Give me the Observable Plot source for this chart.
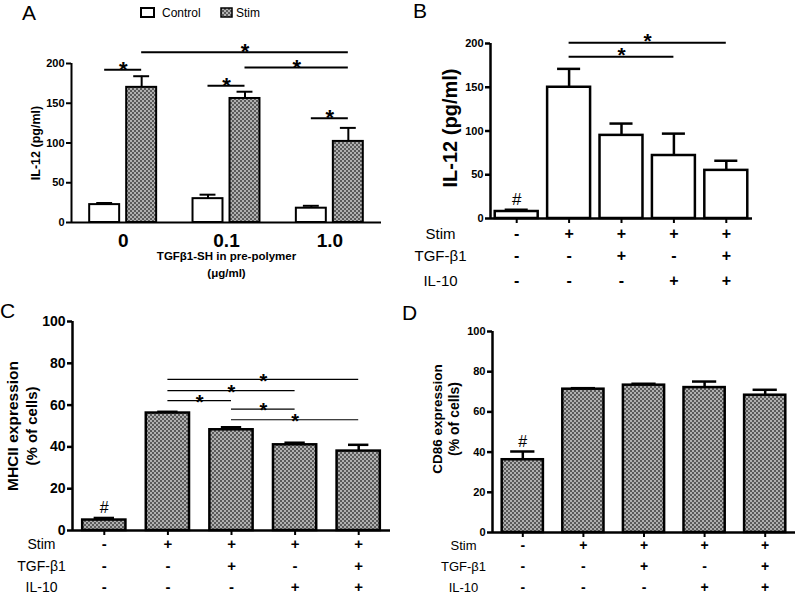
<!DOCTYPE html>
<html><head><meta charset="utf-8">
<script src="https://cdn.jsdelivr.net/npm/d3@7"></script>
<script src="https://cdn.jsdelivr.net/npm/@observablehq/plot@0.6"></script>
<style>
body{margin:0;background:#fff;}
#fig{position:relative;width:800px;height:601px;overflow:hidden;font-family:Arial,"Liberation Sans",sans-serif;}
.panel{position:absolute;}
#overlay{position:absolute;left:0;top:0;pointer-events:none;}
</style></head><body>
<svg width="0" height="0" style="position:absolute">
  <defs>
    <pattern id="hatch" width="4" height="4" patternUnits="userSpaceOnUse">
      <rect width="4" height="4" fill="#b0b0b0"/>
      <rect width="2" height="2" fill="#5a5a5a"/>
      <rect x="2" y="2" width="2" height="2" fill="#5a5a5a"/>
    </pattern>
  </defs>
</svg>
<div id="fig"></div>
<script>
// ---------- DATA ----------
// Panel A
const groupsA = ["0", "0.1", "1.0"];
const seriesA = ["Control", "Stim"];
const controlA = [22.5, 30, 18];
const controlErrA = [2, 5, 3];
const stimA = [170, 156, 102];
const stimErrA = [14, 8.5, 17];
const sigA = [
  {g1: 0, s1: "Control", g2: 0, s2: "Stim", y: 192},
  {g1: 0, s1: "Stim", g2: 2, s2: "Stim", y: 214},
  {g1: 1, s1: "Stim", g2: 2, s2: "Stim", y: 195},
  {g1: 1, s1: "Control", g2: 1, s2: "Stim", y: 172},
  {g1: 2, s1: "Control", g2: 2, s2: "Stim", y: 131}
];
const yTicksA = [0, 50, 100, 150, 200];

// Conditions (B, C, D)
const stimRow = ["-", "+", "+", "+", "+"];
const tgfRow  = ["-", "-", "+", "-", "+"];
const il10Row = ["-", "-", "-", "+", "+"];
const rowNames = ["Stim", "TGF-\u03b21", "IL-10"];

// Panel B
const valuesB = [8, 150, 95, 72, 55];
const errB = [2, 21, 13.5, 25, 11];
const sigB = [{a: 1, b: 4, y: 201}, {a: 1, b: 3, y: 185}];
const yTicksB = [0, 50, 100, 150, 200];

// Panel C
const valuesC = [5, 56.2, 48.2, 41, 38];
const errC = [1, 0.6, 1.2, 1, 3];
const sigC = [
  {a: 1, b: 4, y: 72.3}, {a: 1, b: 3, y: 66.9}, {a: 1, b: 2, y: 62.1},
  {a: 2, b: 3, y: 58.1}, {a: 2, b: 4, y: 53}
];
const yTicksC = [0, 20, 40, 60, 80, 100];

// Panel D
const valuesD = [36.2, 71.3, 73.3, 72.1, 68.3];
const errD = [4.1, 0.5, 0.7, 3, 2.7];
const yTicksD = [0, 20, 40, 60, 80, 100];

// ---------- RENDER ----------
const FONT = 'Arial, "Liberation Sans", sans-serif';
const fig = document.getElementById("fig");
function place(el, left, top) {
  const d = document.createElement("div");
  d.className = "panel"; d.style.left = left + "px"; d.style.top = top + "px";
  d.appendChild(el); fig.appendChild(d);
}

// Panel A
{
  const off = 0.179, hw = 0.145, cap = 0.077;
  const rows = [];
  groupsA.forEach((g, i) => {
    rows.push({gi: i, s: "Control", v: controlA[i], e: controlErrA[i]});
    rows.push({gi: i, s: "Stim", v: stimA[i], e: stimErrA[i]});
  });
  const pos = (gi, s) => gi + (s === "Control" ? -off : off);
  const cx = d => pos(d.gi, d.s);
  const plot = Plot.plot({
    width: 400, height: 300,
    marginLeft: 71, marginRight: 19, marginTop: 63, marginBottom: 78,
    style: {fontFamily: FONT, fontSize: "11px", color: "black", background: "transparent", overflow: "visible"},
    x: {type: "linear", domain: [-0.5, groupsA.length - 0.5], label: null},
    y: {domain: [0, 200], label: null},
    marks: [
      Plot.ruleX(rows, {x: cx, y1: d => d.v, y2: d => d.v + d.e, strokeWidth: 2}),
      Plot.ruleY(rows, {y: d => d.v + d.e, x1: d => cx(d) - cap, x2: d => cx(d) + cap, strokeWidth: 2}),
      Plot.rect(rows.filter(d => d.s === "Control"), {x1: d => cx(d) - hw, x2: d => cx(d) + hw, y1: 0, y2: "v", fill: "white", stroke: "black", strokeWidth: 2}),
      Plot.rect(rows.filter(d => d.s === "Stim"), {x1: d => cx(d) - hw, x2: d => cx(d) + hw, y1: 0, y2: "v", fill: "url(#hatch)", stroke: "black", strokeWidth: 2}),
      Plot.ruleY(sigA, {y: "y", x1: d => pos(d.g1, d.s1), x2: d => pos(d.g2, d.s2), strokeWidth: 2}),
      Plot.text(sigA, {x: d => (pos(d.g1, d.s1) + pos(d.g2, d.s2)) / 2, y: "y", text: () => "*", fontSize: 22, fontWeight: "bold", dy: 0}),
      Plot.ruleX([-0.5], {strokeWidth: 2}),
      Plot.ruleY([0], {strokeWidth: 2}),
      Plot.axisY({ticks: yTicksA, tickSize: 5, tickPadding: 2, strokeWidth: 2, fontSize: 11, fontWeight: "bold", label: null}),
      Plot.axisX({ticks: groupsA.map((g, i) => i), tickFormat: i => groupsA[i], tickSize: 0, tickPadding: 11, fontSize: 19, fontWeight: "bold", label: null}),
      Plot.text(["IL-12 (pg/ml)"], {frameAnchor: "left", dx: -36, rotate: -90, textAnchor: "middle", text: d => d, fontSize: 12.5, fontWeight: "bold"}),
      Plot.text(["TGF\u03b21-SH in pre-polymer"], {frameAnchor: "bottom", dy: 37, text: d => d, fontSize: 11.5, fontWeight: "bold"}),
      Plot.text(["(\u03bcg/ml)"], {frameAnchor: "bottom", dy: 54, text: d => d, fontSize: 11.5, fontWeight: "bold"})
    ]
  });
  place(plot, 0, 0);
}

function conditionPanel(o) {
  const idx = o.values.map((_, i) => i);
  const rows = idx.map(i => ({i, v: o.values[i], e: o.err[i]}));
  const rowVals = [stimRow, tgfRow, il10Row];
  const marks = [
    Plot.ruleX(rows, {x: "i", y1: "v", y2: d => d.v + d.e, strokeWidth: o.sw}),
    Plot.ruleY(rows, {y: d => d.v + d.e, x1: d => d.i - o.cap, x2: d => d.i + o.cap, strokeWidth: o.sw}),
    Plot.rect(rows, {x1: d => d.i - o.hw, x2: d => d.i + o.hw, y1: 0, y2: "v", fill: o.fill, stroke: "black", strokeWidth: o.sw}),
    Plot.text([rows[0]], {x: "i", y: d => d.v + d.e, text: () => "#", dy: -10, fontSize: o.hashSize, fontWeight: "normal"}),
    Plot.ruleX([-0.5], {strokeWidth: o.sw}),
    Plot.ruleY([0], {strokeWidth: o.sw}),
    Plot.axisY({ticks: o.yTicks, tickSize: 5, tickPadding: 2, strokeWidth: o.sw, fontSize: o.tickFont, fontWeight: "bold", label: null}),
    Plot.axisX({ticks: idx, tickFormat: () => "", tickSize: 5, strokeWidth: 2, label: null})
  ];
  if (o.sig) {
    marks.push(Plot.ruleY(o.sig, {y: "y", x1: "a", x2: "b", strokeWidth: o.sigSw}));
    marks.push(Plot.text(o.sig, {x: d => (d.a + d.b) / 2, y: "y", text: () => "*", fontSize: o.starSize, fontWeight: "bold", dy: o.starDy}));
  }
  rowVals.forEach((vals, r) => {
    marks.push(Plot.text(idx, {x: i => i, text: i => vals[i], frameAnchor: "bottom", dy: o.rowDy[r], fontSize: o.signSize, fontWeight: "bold"}));
    marks.push(Plot.text([rowNames[r]], {frameAnchor: "bottom-left", dx: o.rowLabelDx, dy: o.rowDy[r], text: d => d, textAnchor: "middle", fontSize: o.rowFont, fontWeight: "normal"}));
  });
  o.ylabel.forEach((t, k) => {
    marks.push(Plot.text([t], {frameAnchor: "left", dx: o.ylabelDx[k], dy: o.ylabelDy, rotate: -90, textAnchor: "middle", text: d => d, fontSize: o.ylabelFont[k], fontWeight: "bold"}));
  });
  return Plot.plot({
    width: o.width, height: o.height,
    marginLeft: o.m[0], marginRight: o.m[1], marginTop: o.m[2], marginBottom: o.m[3],
    style: {fontFamily: FONT, fontSize: o.tickFont + "px", color: "black", background: "transparent", overflow: "visible"},
    x: {type: "linear", domain: [-0.5, idx.length - 0.5], label: null},
    y: {domain: o.yDomain, label: null},
    marks
  });
}

// Panel B
place(conditionPanel({
  values: valuesB, err: errB, yDomain: [0, 200], yTicks: yTicksB,
  width: 400, height: 300, m: [90, 48, 43, 82],
  hw: 0.41, cap: 0.22, sw: 2.5, fill: "white",
  sig: sigB, sigSw: 2, starSize: 21, starDy: -1,
  hashSize: 17, tickFont: 11, signSize: 16,
  rowDy: [20, 42, 67], rowLabelDx: -50, rowFont: 15,
  ylabel: ["IL-12 (pg/ml)"], ylabelDx: [-40], ylabelDy: -3, ylabelFont: [20]
}), 400, 0);

// Panel C
place(conditionPanel({
  values: valuesC, err: errC, yDomain: [0, 100], yTicks: yTicksC,
  width: 400, height: 301, m: [72, 10, 21, 71],
  hw: 0.34, cap: 0.16, sw: 2.5, fill: "url(#hatch)",
  sig: sigC, sigSw: 1.2, starSize: 20, starDy: 2,
  hashSize: 16, tickFont: 14, signSize: 15,
  rowDy: [18, 40, 61], rowLabelDx: -31, rowFont: 14,
  ylabel: ["MHCII expression", "(% of cells)"], ylabelDx: [-59, -40], ylabelDy: 0, ylabelFont: [15.5, 15]
}), 0, 300);

// Panel D
place(conditionPanel({
  values: valuesD, err: errD, yDomain: [0, 100], yTicks: yTicksD,
  width: 400, height: 301, m: [92, 5, 31, 69],
  hw: 0.34, cap: 0.2, sw: 2.5, fill: "url(#hatch)",
  sig: null, hashSize: 16, tickFont: 11, signSize: 14,
  rowDy: [17, 38, 59], rowLabelDx: -29, rowFont: 13,
  ylabel: ["CD86 expression", "(% of cells)"], ylabelDx: [-55, -38], ylabelDy: -13, ylabelFont: [13.5, 14]
}), 400, 300);

// Overlay: panel letters and legend of A
const ns = "http://www.w3.org/2000/svg";
const ov = document.createElementNS(ns, "svg");
ov.setAttribute("id", "overlay"); ov.setAttribute("width", 800); ov.setAttribute("height", 601);
ov.style.fontFamily = FONT;
function svgEl(tag, attrs, text) {
  const e = document.createElementNS(ns, tag);
  for (const k in attrs) e.setAttribute(k, attrs[k]);
  if (text != null) e.textContent = text;
  ov.appendChild(e); return e;
}
const letters = [["A", 22, 20], ["B", 413, 18], ["C", 0, 318], ["D", 402, 320]];
letters.forEach(([t, x, y]) => svgEl("text", {x, y, "font-size": 21}, t));
svgEl("rect", {x: 141, y: 8, width: 13, height: 9, fill: "white", stroke: "black", "stroke-width": 2});
svgEl("text", {x: 162, y: 16.5, "font-size": 12}, seriesA[0]);
svgEl("rect", {x: 221, y: 8, width: 11, height: 9, fill: "url(#hatch)", stroke: "black", "stroke-width": 1.5});
svgEl("text", {x: 236, y: 16.5, "font-size": 12}, seriesA[1]);
fig.appendChild(ov);
</script>
</body></html>
